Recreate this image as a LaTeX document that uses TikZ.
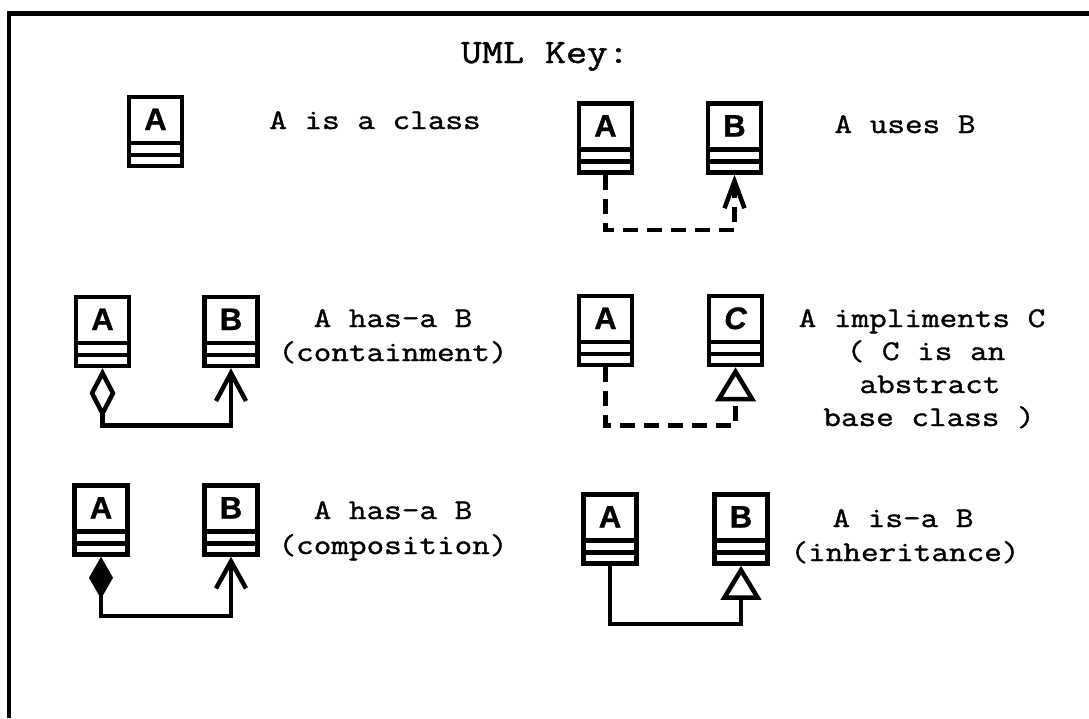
\documentclass[tikz,border=0pt]{standalone}
\usepackage{fontspec}
\setmonofont{Latin Modern Mono}[FakeStretch=1.2, FakeBold=1.3]
\newfontfamily\classfont{Liberation Sans}[FakeBold=1]
\usetikzlibrary{arrows.meta}

\tikzset{
  % a class box: name compartment with the letter, then two empty compartments
  umlclass/.style={draw, line width=4.5pt, inner sep=0pt, minimum width=53pt,
    text height=33pt, text depth=36pt,
    font=\classfont\bfseries\fontsize{31}{31}\selectfont,
    path picture={
      \draw[line width=4.5pt]
        ([yshift=11pt]path picture bounding box.south west) --
        ([yshift=11pt]path picture bounding box.south east);
      \draw[line width=4.5pt]
        ([yshift=23pt]path picture bounding box.south west) --
        ([yshift=23pt]path picture bounding box.south east);
    }},
  keytext/.style={font=\ttfamily\fontsize{28.5}{28.5}\selectfont, anchor=base, inner sep=0pt},
  titletext/.style={font=\ttfamily\fontsize{34}{34}\selectfont, anchor=base, inner sep=0pt},
  conn/.style={line width=4.5pt},
  dep/.style={conn, dash pattern=on 15pt off 9pt},
  smallbarb/.style={-{Straight Barb[length=27pt,width=20pt]}},
  hollowtri/.style={-{Triangle[fill=white,length=34pt,width=40pt]}},
}

\begin{document}
\begin{tikzpicture}[x=1pt, y=-1pt]
\useasboundingbox (0,0) rectangle (1089,718);

% frame (top and left edges)
\draw[line width=4.5pt, line join=miter] (9,718) -- (9,13.5) -- (1089,13.5);

% title
\node[titletext] (title) at (545,63) {UML Key:};

% A is a class
\node[umlclass] (k) at (155.5,131.5) {A};
\node[keytext] (tk) at (375,129) {A is a class};

% A uses B
\node[umlclass] (ua) at (605.5,138) {A};
\node[umlclass] (ub) at (734.5,138) {B};
\node[keytext] (tu) at (905,133) {A uses B};
\draw[dep, smallbarb] (ua.south) -- ++(0,55) -| (ub.south);

% A has-a B (containment)
\node[umlclass] (ha) at (102.5,331.5) {A};
\node[umlclass] (hb) at (231,331.5) {B};
\node[keytext] (th1) at (393,327) {A has-a B};
\node[keytext] (th2) at (393,361) {(containment)};
\draw[conn, {Diamond[fill=white,length=50pt,width=26pt]}-{Straight Barb[length=28pt,width=30pt]}]
  (ha.south) -- ++(0,57) -| (hb.south);

% A impliments C
\node[umlclass] (ia) at (605.5,330.5) {A};
\node[umlclass] (ic) at (735.5,330.5) {\itshape C};
\node[keytext] (ti1) at (922,327) {A impliments C};
\node[keytext] (ti2) at (926,360) {( C is an};
\node[keytext] (ti3) at (930,393) {abstract};
\node[keytext] (ti4) at (929,426) {base class )};
\draw[dep, hollowtri] (ia.south) -- ++(0,58) -| (ic.south);

% A has-a B (composition)
\node[umlclass] (ca) at (101,520) {A};
\node[umlclass] (cb) at (231,520) {B};
\node[keytext] (tc1) at (393,519) {A has-a B};
\node[keytext] (tc2) at (393,554) {(composition)};
\draw[conn, {Diamond[length=42pt,width=24pt]}-{Straight Barb[length=27pt,width=30pt]}]
  (ca.south) -- ++(0,59) -| (cb.south);

% A is-a B (inheritance)
\node[umlclass] (na) at (610,529) {A};
\node[umlclass] (nb) at (741,529) {B};
\node[keytext] (tn1) at (903,527) {A is-a B};
\node[keytext] (tn2) at (905,561) {(inheritance)};
\draw[conn, hollowtri] (na.south) -- ++(0,58) -| (nb.south);
\end{tikzpicture}
\end{document}
